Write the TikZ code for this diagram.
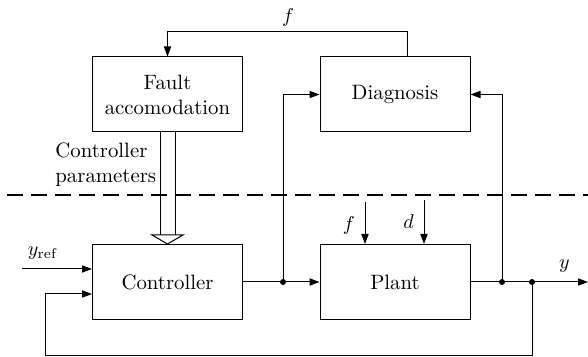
\documentclass[tikz,border=0pt]{standalone}
\usetikzlibrary{arrows.meta,calc}
\begin{document}
\begin{tikzpicture}[x=0.5pt,y=-0.5pt,
  font=\fontsize{10.4}{12.5}\selectfont,
  block/.style={draw, line width=0.5pt, minimum width=75pt, minimum height=37.5pt, align=center, inner sep=0pt},
  conn/.style={line width=0.5pt},
  arr/.style={conn, -{Triangle[length=5pt,width=3.6pt]}},
  dot/.style={circle, fill, inner sep=0pt, minimum size=3pt},
  sepline/.style={line width=1pt, dash pattern=on 8pt off 4pt}]
\useasboundingbox (0,0) rectangle (588,357);
% blocks
\node[block] (fa) at (167.5,94.5) {Fault\\accomodation};
\node[block] (diag) at (395,94.5) {Diagnosis};
\node[block] (ctrl) at (167.5,282) {Controller};
\node[block] (plant) at (395,282) {Plant};
% junctions
\node[dot] (j1) at (283,282) {};
\node[dot] (j2) at (502,282) {};
\node[dot] (j3) at (532,282) {};
\coordinate (out) at (588,282);
\coordinate (yrefin) at (22,269);
\coordinate (fbc) at (45,355);
\coordinate (fin) at (365,202);
\coordinate (din) at (424,200);
\coordinate (dl) at (7,195);
\coordinate (dr) at (588,195);
% dashed separator
\draw[sepline] (dl) -- (dr);
% main path
\draw[arr] (ctrl.east) -- (j1) -- (plant.west);
\draw[conn] (plant.east) -- (j2) -- (j3);
\draw[arr] (j3) -- (out) node[pos=0.55, above=1pt] {$y$};
\draw[arr] (j1) |- (diag.west);
\draw[arr] (j2) |- (diag.east);
\draw[arr] ([xshift=6pt]diag.north) -- ++(0,-25) -| (fa.north);
\node (flab) at (288,18) {$f$};
% inputs
\draw[arr] (yrefin) -- ([yshift=6.5pt]ctrl.west) node[pos=0.3, above=1pt] {$y_{\mathrm{ref}}$};
\draw[arr] (j3) |- (fbc) |- ([yshift=-6pt]ctrl.west);
\draw[arr] (fin) -- (fin |- plant.north) node[pos=0.55, left=1.5pt] {$f$};
\draw[arr] (din) -- (din |- plant.north) node[pos=0.5, left=1.5pt] {$d$};
% double arrow (controller parameters)
\coordinate (da) at (fa.south);
\coordinate (db) at (ctrl.north);
\draw[conn] ($(da)+(-7.5,0)$) -- ($(db)+(-7.5,-9)$);
\draw[conn] ($(da)+(7.5,0)$) -- ($(db)+(7.5,-9)$);
\draw[conn, fill=white] ($(db)+(-15.5,-9)$) -- ($(db)+(15.5,-9)$) -- (db) -- cycle;
\node[anchor=north west, align=left, inner sep=0pt] (cp) at (55,142) {Controller\\parameters};
\end{tikzpicture}
\end{document}
